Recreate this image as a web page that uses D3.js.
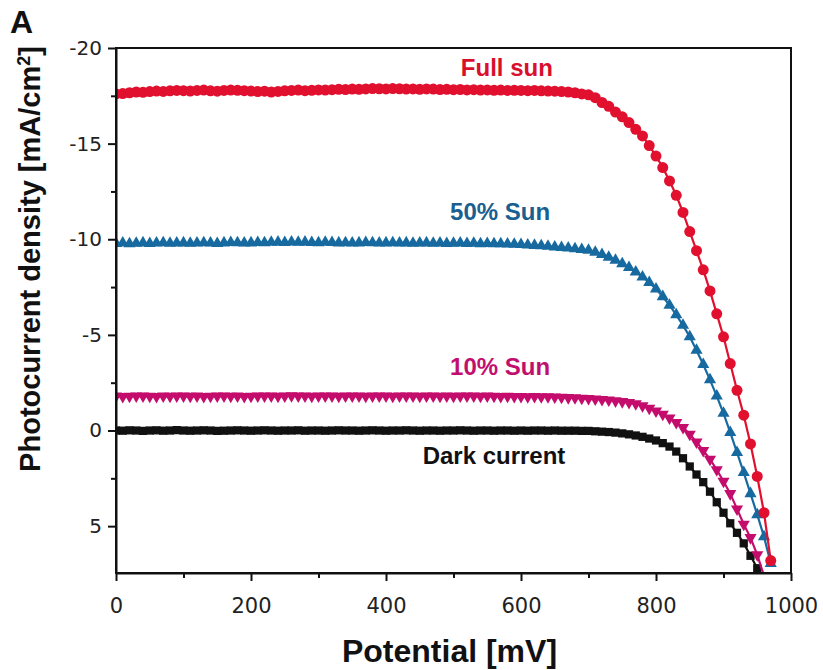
<!DOCTYPE html>
<html>
<head>
<meta charset="utf-8">
<script src="https://cdn.jsdelivr.net/npm/d3@7/dist/d3.min.js"></script>
<style>
  body { margin: 0; background: #fff; }
</style>
</head>
<body>
<div id="chart"></div>
<script>
// photocurrent density [mA/cm2], one reading every 10 mV starting at 0 mV
const stepMV = 10;

const fullSun = [
  -17.60, -17.62, -17.66, -17.70, -17.68, -17.72, -17.75, -17.73, -17.76, -17.78,
  -17.77, -17.75, -17.78, -17.80, -17.76, -17.74, -17.78, -17.80, -17.79, -17.77,
  -17.75, -17.72, -17.74, -17.70, -17.73, -17.76, -17.78, -17.80, -17.77, -17.79,
  -17.81, -17.80, -17.82, -17.84, -17.83, -17.85, -17.84, -17.86, -17.88, -17.87,
  -17.86, -17.88, -17.87, -17.85, -17.86, -17.84, -17.86, -17.85, -17.83, -17.84,
  -17.82, -17.83, -17.81, -17.82, -17.80, -17.81, -17.79, -17.80, -17.78, -17.79,
  -17.78, -17.77, -17.78, -17.76, -17.75, -17.74, -17.72, -17.70, -17.66, -17.60,
  -17.55, -17.40, -17.15, -16.95, -16.65, -16.40, -16.10, -15.75, -15.40, -14.90,
  -14.35, -13.75, -13.05, -12.30, -11.40, -10.40, -9.40, -8.40, -7.30, -6.10,
  -4.90, -3.50, -2.10, -0.80, 0.70, 2.40, 4.30, 6.80
];

const halfSun = [
  -9.78, -9.80, -9.76, -9.79, -9.81, -9.78, -9.80, -9.82, -9.79, -9.80,
  -9.81, -9.79, -9.80, -9.82, -9.80, -9.78, -9.81, -9.83, -9.82, -9.80,
  -9.81, -9.83, -9.82, -9.84, -9.85, -9.83, -9.86, -9.84, -9.85, -9.83,
  -9.82, -9.84, -9.83, -9.81, -9.82, -9.80, -9.81, -9.83, -9.82, -9.80,
  -9.81, -9.82, -9.80, -9.81, -9.79, -9.80, -9.81, -9.79, -9.80, -9.78,
  -9.79, -9.80, -9.78, -9.79, -9.77, -9.78, -9.76, -9.77, -9.75, -9.74,
  -9.72, -9.70, -9.68, -9.66, -9.63, -9.60, -9.57, -9.54, -9.50, -9.46,
  -9.42, -9.32, -9.20, -9.06, -8.90, -8.72, -8.52, -8.29, -8.03, -7.74,
  -7.40, -7.00, -6.55, -6.05, -5.50, -4.90, -4.20, -3.45, -2.65, -1.80,
  -0.90, 0.10, 1.15, 2.20, 3.30, 4.40, 5.55, 6.95
];

const tenthSun = [
  -1.80, -1.78, -1.79, -1.81, -1.80, -1.79, -1.78, -1.80, -1.79, -1.81,
  -1.80, -1.79, -1.80, -1.78, -1.79, -1.80, -1.81, -1.79, -1.80, -1.78,
  -1.79, -1.80, -1.81, -1.80, -1.79, -1.80, -1.82, -1.81, -1.80, -1.79,
  -1.80, -1.81, -1.80, -1.79, -1.80, -1.81, -1.80, -1.79, -1.80, -1.81,
  -1.80, -1.79, -1.80, -1.81, -1.80, -1.79, -1.80, -1.80, -1.79, -1.80,
  -1.79, -1.80, -1.81, -1.80, -1.79, -1.80, -1.79, -1.78, -1.79, -1.78,
  -1.78, -1.77, -1.78, -1.77, -1.76, -1.75, -1.74, -1.72, -1.71, -1.69,
  -1.67, -1.65, -1.62, -1.59, -1.55, -1.51, -1.46, -1.40, -1.30, -1.17,
  -1.02, -0.85, -0.65, -0.42, -0.16, 0.20, 0.60, 1.05, 1.50, 2.05,
  2.65, 3.30, 4.10, 4.90, 5.60, 6.50, 7.60
];

const darkCurrent = [
  0.00, 0.01, -0.01, 0.00, 0.02, 0.00, -0.01, 0.01, 0.00, -0.02,
  0.00, 0.01, 0.00, -0.01, 0.00, 0.02, 0.01, 0.00, -0.01, 0.00,
  0.01, 0.00, -0.01, 0.00, 0.01, 0.00, 0.00, -0.01, 0.01, 0.00,
  0.00, 0.01, 0.00, -0.01, 0.00, 0.00, 0.01, 0.00, -0.01, 0.00,
  0.01, 0.00, 0.00, -0.01, 0.00, 0.01, 0.00, 0.00, 0.01, 0.00,
  0.00, -0.01, 0.00, 0.01, 0.00, 0.00, 0.01, 0.00, 0.00, 0.01,
  0.00, 0.01, 0.00, 0.00, 0.01, 0.00, 0.01, 0.01, 0.01, 0.02,
  0.02, 0.04, 0.06, 0.08, 0.11, 0.15, 0.20, 0.26, 0.33, 0.42,
  0.52, 0.66, 0.84, 1.10, 1.45, 1.88, 2.30, 2.70, 3.20, 3.75,
  4.30, 4.85, 5.35, 5.90, 6.55, 7.20
];

const xTicks = [0, 200, 400, 600, 800, 1000];
const xMinorTicks = [100, 300, 500, 700, 900];
const yTicks = [-20, -15, -10, -5, 0, 5];
const yMinorTicks = [-17.5, -12.5, -7.5, -2.5, 2.5];

const W = 823, H = 670;
const plot = {left: 116, right: 791, top: 48, bottom: 573};

const svg = d3.select("#chart").append("svg")
    .attr("width", W)
    .attr("height", H)
    .style("font-family", "'Liberation Sans', Arial, sans-serif");

const x = d3.scaleLinear().domain([0, 1000]).range([plot.left, plot.right]);
const y = d3.scaleLinear().domain([-20, 7.45]).range([plot.top, plot.bottom]);

svg.append("clipPath").attr("id", "plot-clip")
    .append("rect")
    .attr("x", plot.left).attr("y", plot.top)
    .attr("width", plot.right - plot.left)
    .attr("height", plot.bottom - plot.top);

// drawing order: dark first, full sun on top
const series = [
  {name: "Dark current", values: darkCurrent, color: "#111111", symbol: d3.symbolSquare, size: 68, rotate: 0},
  {name: "10% Sun", values: tenthSun, color: "#c40c6c", symbol: d3.symbolTriangle, size: 64, rotate: 180},
  {name: "50% Sun", values: halfSun, color: "#176aa0", symbol: d3.symbolTriangle, size: 64, rotate: 0},
  {name: "Full sun", values: fullSun, color: "#e0102e", symbol: d3.symbolCircle, size: 95, rotate: 0}
];

const dataLayer = svg.append("g").attr("clip-path", "url(#plot-clip)");

series.forEach(s => {
  const pts = s.values.map((v, i) => ({mv: i * stepMV, j: v}));

  dataLayer.append("path")
      .datum(pts)
      .attr("fill", "none")
      .attr("stroke", s.color)
      .attr("stroke-width", 2.2)
      .attr("d", d3.line().x(d => x(d.mv)).y(d => y(d.j)));

  dataLayer.selectAll(null)
      .data(pts)
      .enter()
      .append("path")
      .attr("d", d3.symbol().type(s.symbol).size(s.size))
      .attr("transform", d => `translate(${x(d.mv)},${y(d.j)}) rotate(${s.rotate})`)
      .attr("fill", s.color);
});

// frame
svg.append("rect")
    .attr("x", plot.left).attr("y", plot.top)
    .attr("width", plot.right - plot.left)
    .attr("height", plot.bottom - plot.top)
    .attr("fill", "none")
    .attr("stroke", "#111")
    .attr("stroke-width", 2);

// axes
const tickFont = "'DejaVu Sans', sans-serif";

const yAxis = svg.append("g")
    .attr("transform", `translate(${plot.left},0)`)
    .call(d3.axisLeft(y).tickValues(yTicks).tickSize(8).tickSizeOuter(0).tickPadding(6).tickFormat(d => String(d)));
svg.append("g")
    .attr("transform", `translate(${plot.left},0)`)
    .call(d3.axisLeft(y).tickValues(yMinorTicks).tickSize(5).tickSizeOuter(0).tickFormat(""))
    .call(g => g.select(".domain").remove());

const xAxis = svg.append("g")
    .attr("transform", `translate(0,${plot.bottom})`)
    .call(d3.axisBottom(x).tickValues(xTicks).tickSize(8).tickSizeOuter(0).tickPadding(17).tickFormat(d => String(d)));
svg.append("g")
    .attr("transform", `translate(0,${plot.bottom})`)
    .call(d3.axisBottom(x).tickValues(xMinorTicks).tickSize(5).tickSizeOuter(0).tickFormat(""))
    .call(g => g.select(".domain").remove());

svg.selectAll(".tick line").attr("stroke", "#111").attr("stroke-width", 2);
svg.selectAll(".domain").attr("stroke", "#111").attr("stroke-width", 2);

yAxis.selectAll("text")
    .style("font-family", tickFont).style("font-size", "20px").attr("fill", "#222");
xAxis.selectAll("text")
    .style("font-family", tickFont).style("font-size", "21px").attr("fill", "#222");

// series labels, anchored in data units
const labels = [
  {text: "Full sun", mv: 579, j: -18.55, color: "#d8102c"},
  {text: "50% Sun", mv: 569, j: -11.0, color: "#1a5f90"},
  {text: "10% Sun", mv: 569, j: -2.9, color: "#c20f6e"},
  {text: "Dark current", mv: 560, j: 1.75, color: "#111111"}
];

svg.selectAll(".series-label")
    .data(labels)
    .enter()
    .append("text")
    .attr("class", "series-label")
    .attr("x", d => x(d.mv))
    .attr("y", d => y(d.j))
    .attr("text-anchor", "middle")
    .style("font-size", "24px")
    .style("font-weight", "bold")
    .attr("fill", d => d.color)
    .text(d => d.text);

// axis titles
svg.append("text")
    .attr("x", (plot.left + plot.right) / 2 - 4)
    .attr("y", 662)
    .attr("text-anchor", "middle")
    .style("font-size", "32px")
    .style("font-weight", "bold")
    .attr("fill", "#111")
    .text("Potential [mV]");

const yTitle = svg.append("text")
    .attr("transform", "translate(40,259) rotate(-90)")
    .attr("text-anchor", "middle")
    .style("font-size", "29px")
    .style("font-weight", "bold")
    .attr("fill", "#111");
yTitle.append("tspan").text("Photocurrent density [mA/cm");
yTitle.append("tspan").attr("baseline-shift", "super").style("font-size", "18px").text("2");
yTitle.append("tspan").text("]");

// panel letter
svg.append("text")
    .attr("x", 10)
    .attr("y", 33)
    .style("font-size", "32px")
    .style("font-weight", "bold")
    .attr("fill", "#111")
    .text("A");
</script>
</body>
</html>
